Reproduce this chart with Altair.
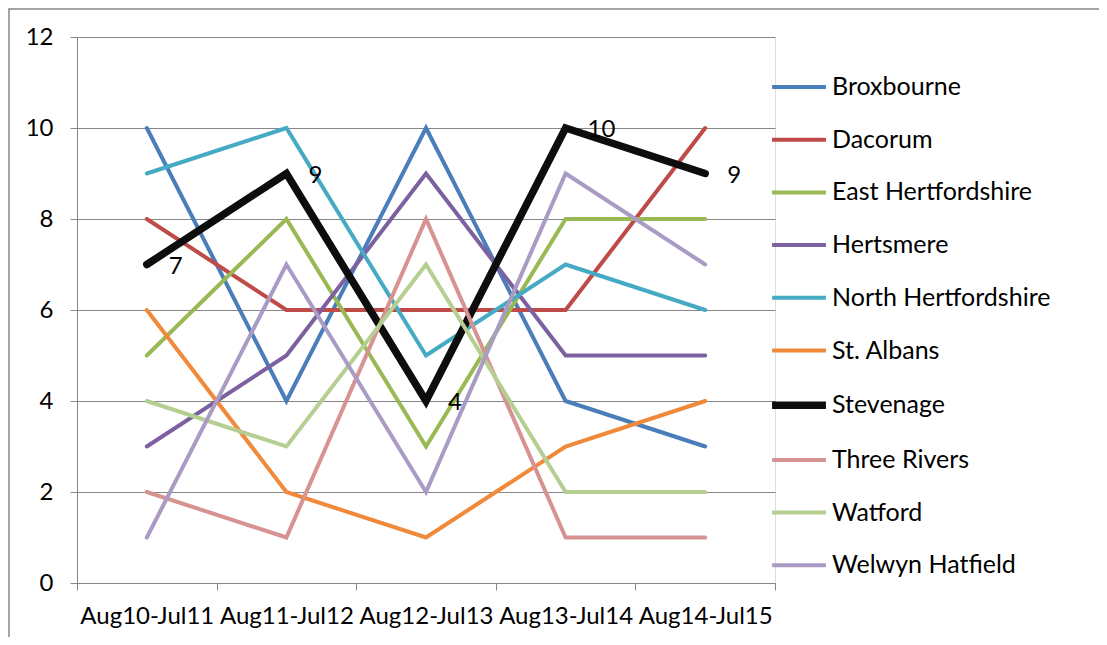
import json
import altair as alt
import pandas as pd

periods = ["Aug10-Jul11", "Aug11-Jul12", "Aug12-Jul13", "Aug13-Jul14", "Aug14-Jul15"]
series_names = ["Broxbourne", "Dacorum", "East Hertfordshire", "Hertsmere",
                "North Hertfordshire", "St. Albans", "Stevenage", "Three Rivers",
                "Watford", "Welwyn Hatfield"]

broxbourne = [10, 4, 10, 4, 3]
dacorum = [8, 6, 6, 6, 10]
east_herts = [5, 8, 3, 8, 8]
hertsmere = [3, 5, 9, 5, 5]
north_herts = [9, 10, 5, 7, 6]
st_albans = [6, 2, 1, 3, 4]
stevenage = [7, 9, 4, 10, 9]
three_rivers = [2, 1, 8, 1, 1]
watford = [4, 3, 7, 2, 2]
welwyn_hatfield = [1, 7, 2, 9, 7]

series_values = [broxbourne, dacorum, east_herts, hertsmere, north_herts,
                 st_albans, stevenage, three_rivers, watford, welwyn_hatfield]

colors = ["#4A7EBB", "#BE4B48", "#98B954", "#7D60A0", "#46AAC5",
          "#F08A3A", "#0D0D0D", "#D69392", "#B5CF92", "#A99BC4"]
widths = [4, 4, 4, 4, 4, 4, 7.5, 4, 4, 4]

rows = []
for name, vals in zip(series_names, series_values):
    for p, v in zip(periods, vals):
        rows.append({"series": name, "period": p, "rank": v})
df = pd.DataFrame(rows)

FONT = "Lato"
GRAY = "#868686"
AX_FS = 24
LEG_FS = 25

legend_cfg = dict(
    title=None, orient="none", legendX=691, legendY=21,
    symbolType="stroke", symbolSize=2900, padding=0, rowPadding=10.7,
    labelFont=FONT, labelFontSize=LEG_FS, labelColor="#000000", labelOffset=2,
    labelLimit=400,
)

x_enc = alt.X(
    "period:N",
    sort=periods,
    scale=alt.Scale(type="band", domain=periods, paddingInner=0, paddingOuter=0),
    axis=alt.Axis(
        title=None, tickBand="extent", ticks=True, tickSize=7, tickColor=GRAY,
        domainColor=GRAY, labelFont=FONT, labelFontSize=AX_FS, labelColor="#000000",
        labelPadding=14, labelAngle=0, grid=False,
    ),
)
y_enc = alt.Y(
    "rank:Q",
    scale=alt.Scale(domain=[0, 12], nice=False, zero=True),
    axis=alt.Axis(
        title=None, values=[0, 2, 4, 6, 8, 10, 12], tickSize=7, tickColor=GRAY,
        domainColor=GRAY, grid=True, gridColor=GRAY, gridWidth=1,
        labelFont=FONT, labelFontSize=AX_FS, labelColor="#000000", labelPadding=17,
    ),
)

lines = alt.Chart(df).mark_line(strokeCap="round", strokeJoin="miter").encode(
    x=x_enc,
    y=y_enc,
    color=alt.Color(
        "series:N",
        scale=alt.Scale(domain=series_names, range=colors),
        legend=alt.Legend(**legend_cfg),
    ),
    strokeWidth=alt.StrokeWidth(
        "series:N",
        scale=alt.Scale(type="ordinal", domain=series_names, range=widths),
        legend=alt.Legend(**legend_cfg),
    ),
    detail="series:N",
)

labels = alt.Chart(df).transform_filter(
    alt.datum.series == "Stevenage"
).mark_text(
    align="left", baseline="middle", dx=22, dy=2, font=FONT, fontSize=AX_FS, color="#000000"
).encode(
    x=alt.X("period:N", sort=periods),
    y=alt.Y("rank:Q"),
    text=alt.Text("rank:Q"),
)

frame = alt.Chart(pd.DataFrame({"a": [0]})).mark_rect(
    filled=False, stroke=GRAY, strokeWidth=1.5
).encode(
    x=alt.value(-68), x2=alt.value(1200), y=alt.value(-28), y2=alt.value(800)
)

chart = alt.layer(frame, lines, labels).properties(
    width=698,
    height=546,
    padding={"left": 69, "top": 29, "right": 324, "bottom": 54},
    autosize=alt.AutoSizeParams(type="none"),
).configure_view(stroke=None).configure(background="white")

chart.save("out.html", embed_options={"renderer": "svg", "actions": False})
